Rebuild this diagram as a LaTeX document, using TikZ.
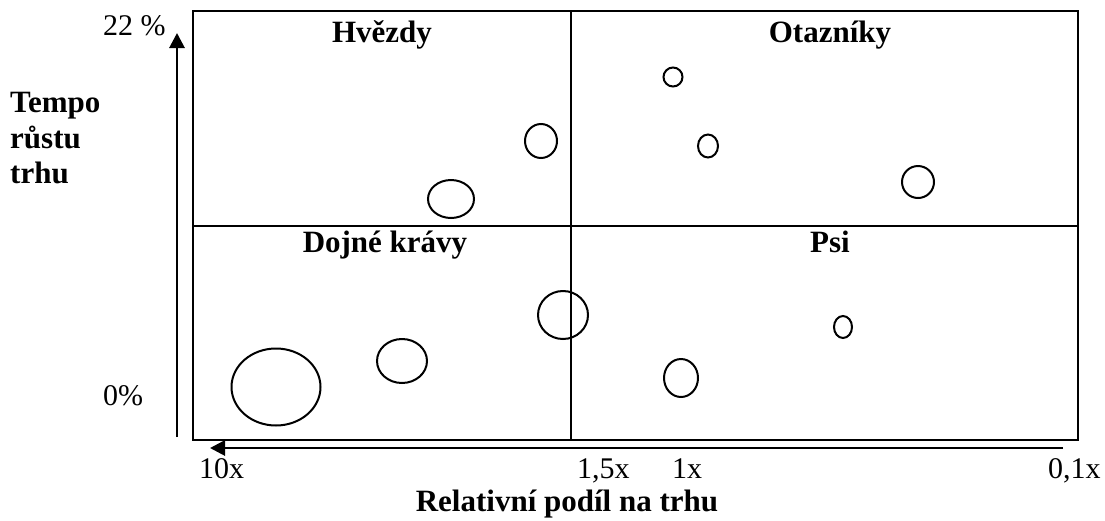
\documentclass[tikz,border=0pt]{standalone}
\usepackage{fontspec}
\setmainfont{Liberation Serif}
\usetikzlibrary{arrows.meta,shapes.geometric}

\tikzset{
  frame/.style={line width=2.6pt},
  divider/.style={line width=2pt},
  axis/.style={line width=2.8pt,-{Triangle[length=15pt,width=15pt]}},
  bubble/.style={draw,ellipse,line width=2pt,inner sep=0pt},
  quad/.style={font=\fontsize{31}{36}\selectfont\bfseries,inner sep=0pt,anchor=base},
  tick/.style={font=\fontsize{30}{36}\selectfont,inner sep=0pt,anchor=base west},
  title/.style={font=\fontsize{31}{36}\selectfont\bfseries,inner sep=0pt},
}

\begin{document}
\begin{tikzpicture}[x=1pt,y=-1pt]
\useasboundingbox (0,0) rectangle (1105,520);

% matrix frame and quadrant dividers
\coordinate (tl) at (193,11);
\coordinate (br) at (1078,440);
\draw[frame] (tl) rectangle (br);
\coordinate (vtop) at (571,11);
\coordinate (vbot) at (571,440);
\coordinate (hl) at (193,226);
\coordinate (hr) at (1078,226);
\draw[divider] (vtop) -- (vbot);
\draw[divider] (hl) -- (hr);

% axes
\coordinate (ya) at (177,437);
\coordinate (yb) at (177,33);
\draw[axis] (ya) -- (yb);
\coordinate (xa) at (1063,448);
\coordinate (xb) at (210,448);
\draw[axis] (xa) -- (xb);

% quadrant titles
\node[quad] (stars) at (382,42) {Hvězdy};
\node[quad] (question) at (830,42) {Otazníky};
\node[quad] (cows) at (385,252) {Dojné krávy};
\node[quad] (dogs) at (830,252) {Psi};

% business units
\node[bubble,minimum width=32pt,minimum height=34pt] (s1) at (541,141) {};
\node[bubble,minimum width=46pt,minimum height=38pt] (s2) at (451,199) {};
\node[bubble,minimum width=19pt,minimum height=19pt] (q1) at (673,77) {};
\node[bubble,minimum width=20pt,minimum height=23pt] (q2) at (708,146) {};
\node[bubble,minimum width=32pt,minimum height=32pt] (q3) at (918,182) {};
\node[bubble,minimum width=89pt,minimum height=77pt] (c1) at (276,387) {};
\node[bubble,minimum width=50pt,minimum height=44pt] (c2) at (402,361) {};
\node[bubble,minimum width=50pt,minimum height=48pt] (c3) at (563,315) {};
\node[bubble,minimum width=18pt,minimum height=22pt] (d1) at (843,327) {};
\node[bubble,minimum width=34pt,minimum height=38pt] (d2) at (681,378) {};

% vertical axis labels
\node[tick] (y22) at (103,35) {22 \%};
\node[tick] (y0) at (103,405) {0\%};
\node[title,anchor=base west] (t1) at (10,112) {Tempo};
\node[title,anchor=base west] (t2) at (10,148) {růstu};
\node[title,anchor=base west] (t3) at (10,183) {trhu};

% horizontal axis labels
\node[tick] (x10) at (199,478) {10x};
\node[tick] (x15) at (577,478) {1,5x};
\node[tick] (x1) at (672,478) {1x};
\node[tick] (x01) at (1048,478) {0,1x};
\node[title,anchor=base] (xt) at (567,511) {Relativní podíl na trhu};
\end{tikzpicture}
\end{document}
